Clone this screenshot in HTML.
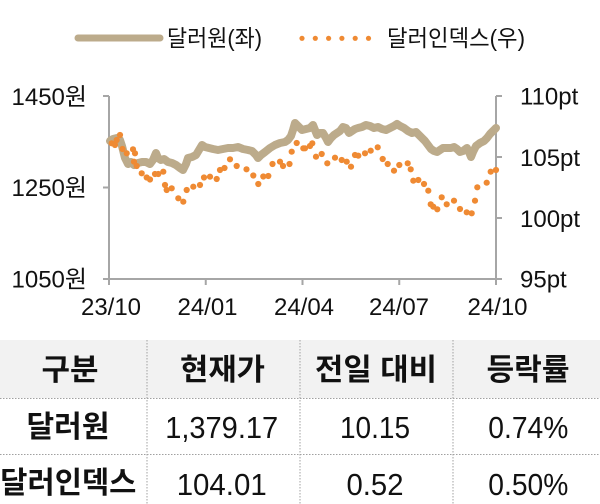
<!DOCTYPE html>
<html><head><meta charset="utf-8">
<style>
html,body{margin:0;padding:0;background:#fff;}
svg{display:block;}
text{font-family:"Liberation Sans","Noto Sans CJK KR",sans-serif;fill:#111;}
</style></head>
<body>
<svg width="600" height="504" viewBox="0 0 600 504" xmlns="http://www.w3.org/2000/svg">
<!-- Legend -->
<line x1="78" y1="38" x2="160" y2="38" stroke="#bcab8b" stroke-width="7" stroke-linecap="round"/>
<text x="167" y="46" font-size="23" textLength="95" lengthAdjust="spacingAndGlyphs">달러원(좌)</text>
<g fill="#ef8a33">
<circle cx="302" cy="38.3" r="2.6"/><circle cx="315.3" cy="38.3" r="2.6"/><circle cx="328.6" cy="38.3" r="2.6"/><circle cx="341.9" cy="38.3" r="2.6"/><circle cx="355.2" cy="38.3" r="2.6"/><circle cx="368.5" cy="38.3" r="2.6"/>
</g>
<text x="387" y="46" font-size="23" textLength="138" lengthAdjust="spacingAndGlyphs">달러인덱스(우)</text>

<!-- Axes -->
<g stroke="#a6a6a6" stroke-width="2" fill="none">
<line x1="109" y1="96" x2="109" y2="279"/>
<line x1="496" y1="96" x2="496" y2="279"/>
<line x1="103" y1="279" x2="502" y2="279"/>
<line x1="103" y1="96" x2="109" y2="96"/>
<line x1="103" y1="187.5" x2="109" y2="187.5"/>
<line x1="496" y1="96" x2="502" y2="96"/>
<line x1="496" y1="157" x2="502" y2="157"/>
<line x1="496" y1="218" x2="502" y2="218"/>
<line x1="109" y1="279" x2="109" y2="285"/>
<line x1="205.75" y1="279" x2="205.75" y2="285"/>
<line x1="302.5" y1="279" x2="302.5" y2="285"/>
<line x1="399.25" y1="279" x2="399.25" y2="285"/>
<line x1="496" y1="279" x2="496" y2="285"/>
</g>

<!-- Left labels -->
<g font-size="24" text-anchor="end">
<text x="87" y="105">1450원</text>
<text x="87" y="196">1250원</text>
<text x="87" y="287.5">1050원</text>
</g>
<!-- Right labels -->
<g font-size="24">
<text x="520" y="104.6">110pt</text>
<text x="520" y="166">105pt</text>
<text x="520" y="227">100pt</text>
<text x="520" y="287.5">95pt</text>
</g>
<!-- X labels -->
<g font-size="24" text-anchor="middle">
<text x="111" y="315">23/10</text>
<text x="207.5" y="315">24/01</text>
<text x="304" y="315">24/04</text>
<text x="399" y="315">24/07</text>
<text x="497.5" y="315">24/10</text>
</g>

<!-- Tan line -->
<polyline fill="none" stroke="#bcab8b" stroke-width="8" stroke-linejoin="round" stroke-linecap="round"
points="110,141 113,139 117,138 120,140 122,146 125,158 128,164 131,162 134,165 138,163 142,162 146,162 150,164 153,160 156,153 158,158 161,160 164,159 168,162 172,163 176,165 180,168 183,170 186,164 188,158 192,157 196,155 199,150 202,145 205,147 209,148 213,149 218,150 223,149 228,148 233,148 238,147 243,149 248,150 252,151 256,155 258,158 261,155 265,152 270,148 275,145 280,143 285,142 288,140 291,136 293,130 295,123 298,126 302,130 306,129 310,128 313,125 315,130 317,135 320,133 323,133 326,138 328,142 331,138 334,135 337,133 340,131 343,127 346,128 349,133 352,131 355,129 358,128 362,127 366,125 370,126 374,128 378,127 382,129 386,130 390,128 394,126 397,124 400,126 404,128 408,131 412,133 416,132 419,135 422,138 425,141 428,145 431,149 434,151 437,152 440,150 443,148 447,148 451,148 454,147 457,149 460,152 463,151 467,148 469,152 471,157 473,152 476,146 480,143 484,141 487,138 490,134 493,131 496,128"/>

<!-- Orange dots -->
<g fill="#ef8a33">
<circle cx="111.7" cy="143.3" r="3.1"/><circle cx="115" cy="145" r="3.1"/><circle cx="116.7" cy="140" r="3.1"/><circle cx="120" cy="135" r="3.1"/><circle cx="122.5" cy="149" r="3.1"/><circle cx="126.7" cy="153.3" r="3.1"/><circle cx="133" cy="149.3" r="3.1"/><circle cx="135" cy="153.3" r="3.1"/><circle cx="134" cy="161.7" r="3.1"/><circle cx="136.7" cy="166" r="3.1"/><circle cx="141.7" cy="173.3" r="3.1"/><circle cx="146.7" cy="177.5" r="3.1"/><circle cx="150" cy="179.5" r="3.1"/><circle cx="155" cy="174" r="3.1"/><circle cx="158.3" cy="174" r="3.1"/><circle cx="163.3" cy="171.7" r="3.1"/><circle cx="165" cy="185" r="3.1"/><circle cx="166.7" cy="190" r="3.1"/><circle cx="171.7" cy="188.3" r="3.1"/><circle cx="178.3" cy="198.3" r="3.1"/><circle cx="183.3" cy="201.7" r="3.1"/><circle cx="186.7" cy="190" r="3.1"/><circle cx="193.3" cy="186.7" r="3.1"/><circle cx="200" cy="185" r="3.1"/><circle cx="204" cy="177.5" r="3.1"/><circle cx="210" cy="176.7" r="3.1"/><circle cx="216.7" cy="179" r="3.1"/><circle cx="220" cy="170" r="3.1"/><circle cx="224.5" cy="168" r="3.1"/><circle cx="230" cy="159.3" r="3.1"/><circle cx="236.7" cy="166" r="3.1"/><circle cx="246.5" cy="169.3" r="3.1"/><circle cx="253.3" cy="175.5" r="3.1"/><circle cx="258.3" cy="184" r="3.1"/><circle cx="263.3" cy="176.5" r="3.1"/><circle cx="268.3" cy="176" r="3.1"/><circle cx="272.5" cy="164" r="3.1"/><circle cx="280" cy="161.7" r="3.1"/><circle cx="283" cy="166" r="3.1"/><circle cx="289.5" cy="164" r="3.1"/><circle cx="291.7" cy="151.7" r="3.1"/><circle cx="296.7" cy="143" r="3.1"/><circle cx="303.3" cy="148.3" r="3.1"/><circle cx="305" cy="148.3" r="3.1"/><circle cx="310" cy="146" r="3.1"/><circle cx="312.3" cy="143.3" r="3.1"/><circle cx="316" cy="156.7" r="3.1"/><circle cx="321.7" cy="154" r="3.1"/><circle cx="327.3" cy="163.3" r="3.1"/><circle cx="335" cy="157.7" r="3.1"/><circle cx="341.7" cy="160" r="3.1"/><circle cx="346.7" cy="161.7" r="3.1"/><circle cx="351" cy="166.7" r="3.1"/><circle cx="355" cy="155" r="3.1"/><circle cx="358.3" cy="155.7" r="3.1"/><circle cx="365" cy="153.3" r="3.1"/><circle cx="370.7" cy="150.7" r="3.1"/><circle cx="377.7" cy="147.3" r="3.1"/><circle cx="382.7" cy="159" r="3.1"/><circle cx="387.7" cy="164" r="3.1"/><circle cx="394" cy="170.7" r="3.1"/><circle cx="399.3" cy="165" r="3.1"/><circle cx="407.7" cy="163.3" r="3.1"/><circle cx="410.7" cy="169.3" r="3.1"/><circle cx="413.3" cy="180.7" r="3.1"/><circle cx="418.3" cy="180" r="3.1"/><circle cx="424" cy="184" r="3.1"/><circle cx="428.3" cy="190.7" r="3.1"/><circle cx="430.7" cy="204.3" r="3.1"/><circle cx="433.3" cy="206.7" r="3.1"/><circle cx="437.3" cy="209.3" r="3.1"/><circle cx="441.7" cy="197.3" r="3.1"/><circle cx="446.7" cy="204.3" r="3.1"/><circle cx="454" cy="200.7" r="3.1"/><circle cx="460" cy="209" r="3.1"/><circle cx="466.7" cy="212.3" r="3.1"/><circle cx="471.7" cy="213.3" r="3.1"/><circle cx="475" cy="200.7" r="3.1"/><circle cx="477.3" cy="187.3" r="3.1"/><circle cx="486.7" cy="182.7" r="3.1"/><circle cx="490.7" cy="171.7" r="3.1"/><circle cx="496" cy="170" r="3.1"/>
</g>

<!-- Table -->
<rect x="0" y="340" width="600" height="58" fill="#f2f2f2"/>
<g stroke="#a0a0a0" stroke-width="1" stroke-dasharray="1.5,1.5" fill="none">
<line x1="0" y1="398.5" x2="600" y2="398.5"/>
<line x1="0" y1="454.5" x2="600" y2="454.5"/>
<line x1="147" y1="340" x2="147" y2="504"/>
<line x1="300" y1="340" x2="300" y2="504"/>
<line x1="453" y1="340" x2="453" y2="504"/>
</g>
<g font-size="30" font-weight="bold" text-anchor="middle">
<text x="70" y="380" textLength="57" lengthAdjust="spacingAndGlyphs">구분</text>
<text x="222.5" y="380" textLength="85" lengthAdjust="spacingAndGlyphs">현재가</text>
<text x="376" y="380" textLength="122" lengthAdjust="spacingAndGlyphs">전일 대비</text>
<text x="528" y="380" textLength="83" lengthAdjust="spacingAndGlyphs">등락률</text>
<text x="68" y="437" textLength="83" lengthAdjust="spacingAndGlyphs">달러원</text>
<text x="68.3" y="493" textLength="136" lengthAdjust="spacingAndGlyphs">달러인덱스</text>
</g>
<g font-size="31" text-anchor="middle">
<text x="221.7" y="438" textLength="113" lengthAdjust="spacingAndGlyphs">1,379.17</text>
<text x="375" y="438" textLength="70" lengthAdjust="spacingAndGlyphs">10.15</text>
<text x="528.3" y="438" textLength="80" lengthAdjust="spacingAndGlyphs">0.74%</text>
<text x="221.7" y="495" textLength="90" lengthAdjust="spacingAndGlyphs">104.01</text>
<text x="375" y="495" textLength="57" lengthAdjust="spacingAndGlyphs">0.52</text>
<text x="528.3" y="495" textLength="80" lengthAdjust="spacingAndGlyphs">0.50%</text>
</g>
</svg>
</body></html>
